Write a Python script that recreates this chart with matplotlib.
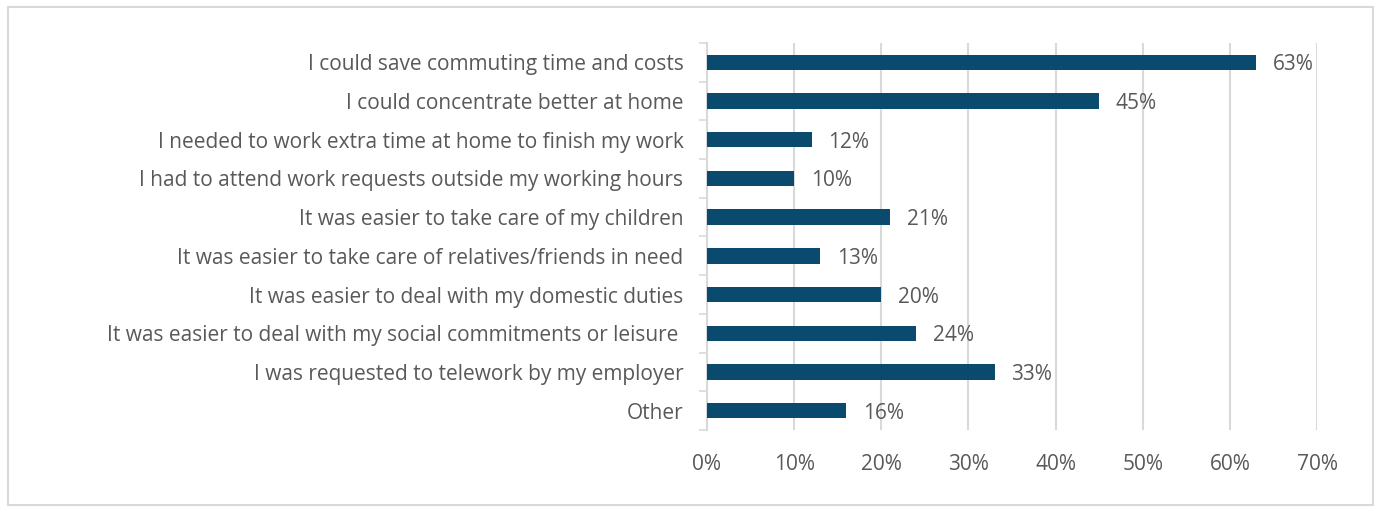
import matplotlib
matplotlib.use("Agg")
import matplotlib.pyplot as plt
from matplotlib.patches import Rectangle
from matplotlib.ticker import FuncFormatter, MultipleLocator

categories = [
    "I could save commuting time and costs",
    "I could concentrate better at home",
    "I needed to work extra time at home to finish my work",
    "I had to attend work requests outside my working hours",
    "It was easier to take care of my children",
    "It was easier to take care of relatives/friends in need",
    "It was easier to deal with my domestic duties",
    "It was easier to deal with my social commitments or leisure ",
    "I was requested to telework by my employer",
    "Other",
]
values = [63, 45, 12, 10, 21, 13, 20, 24, 33, 16]

bar_color = "#0A4A6E"
text_color = "#595959"
grid_color = "#D9D9D9"

plt.rcParams["font.family"] = ["Open Sans", "DejaVu Sans"]

W, H = 1381, 512
fig = plt.figure(figsize=(W / 100, H / 100), dpi=100)
fig.patch.set_facecolor("white")

# Thin light-gray frame around the whole chart area
fig.add_artist(Rectangle((8 / W, 7 / H), (1373 - 8) / W, (505 - 7) / H,
                         transform=fig.transFigure, fill=False,
                         edgecolor="#D9D9D9", linewidth=1.5))

ax = fig.add_axes([707 / W, 1 - 430 / H, (1317 - 707) / W, (430 - 43) / H])

n = len(categories)
ypos = list(range(n))
ax.barh(ypos, values, height=0.4, color=bar_color, zorder=3)
ax.set_ylim(n - 0.5, -0.5)
ax.set_xlim(0, 70)

ax.xaxis.set_major_locator(MultipleLocator(10))
ax.xaxis.set_major_formatter(FuncFormatter(lambda v, p: f"{v:.0f}%"))
ax.grid(axis="x", color=grid_color, linewidth=1.5, zorder=0)
ax.set_axisbelow(True)

fs = 15
ax.set_yticks(ypos)
ax.set_yticklabels(categories)
ax.set_yticks([i - 0.5 for i in range(n + 1)], minor=True)
ax.tick_params(axis="y", which="major", length=0, pad=17, labelsize=fs,
               labelcolor=text_color)
ax.tick_params(axis="y", which="minor", length=6, width=1.2, color=grid_color,
               direction="out")
ax.tick_params(axis="x", length=0, pad=17, labelsize=fs, labelcolor=text_color)

for s in ["top", "right", "bottom"]:
    ax.spines[s].set_visible(False)
ax.spines["left"].set_color(grid_color)
ax.spines["left"].set_linewidth(1.5)

# Value labels to the right of each bar
for y, v in zip(ypos, values):
    ax.text(v + 1.9, y, f"{v}%", va="center_baseline", ha="left", fontsize=fs,
            color=text_color)

fig.savefig("out.png", dpi=100)
